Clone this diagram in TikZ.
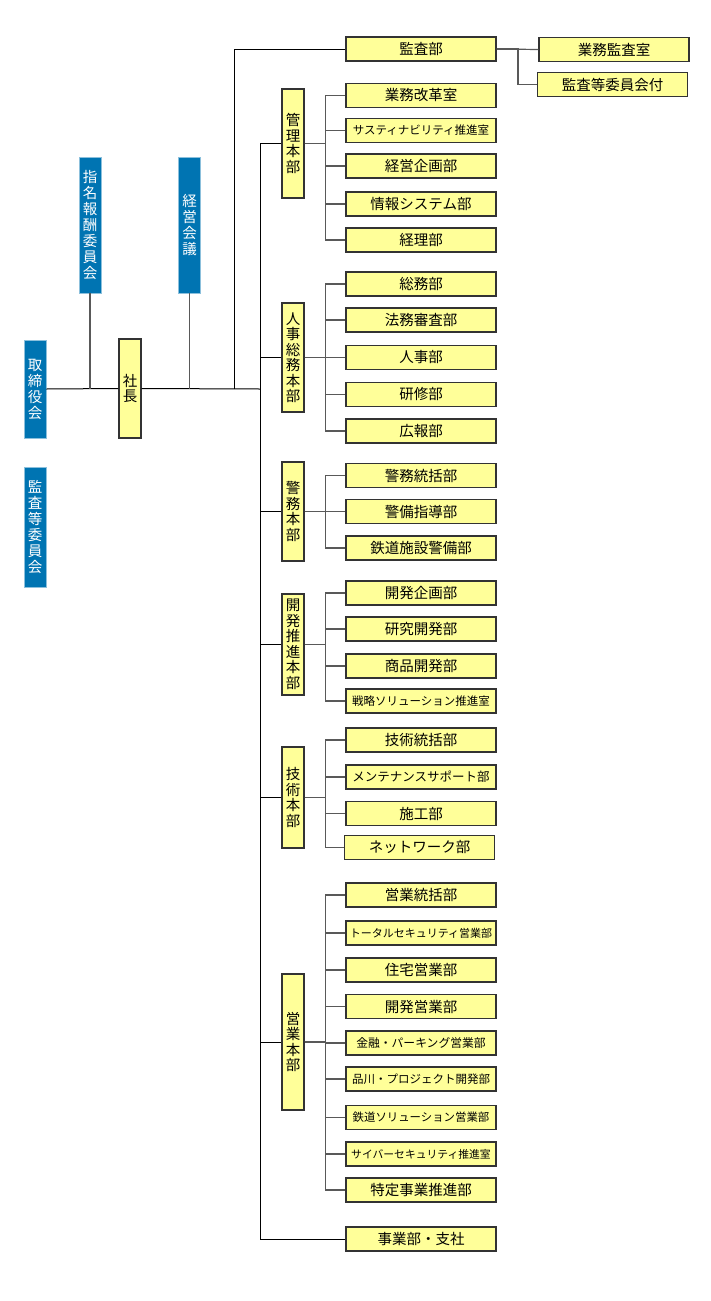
\documentclass[tikz,border=0pt]{standalone}
\usepackage{fontspec}
\usepackage{xcolor}
\newfontfamily\jp{Noto Sans CJK JP}
\definecolor{boxyellow}{RGB}{255,255,153}
\definecolor{kaigiblue}{RGB}{0,116,178}
\newcommand{\fs}[1]{\jp\fontsize{#1}{15.5}\selectfont}

\begin{document}
\begin{tikzpicture}[x=1pt,y=-1pt,
  bu/.style={draw=black!80, fill=boxyellow, line width=1.1pt, minimum width=150pt, minimum height=24pt, inner sep=0pt, font=\fs{14.5}},
  honbu/.style={draw=black!80, fill=boxyellow, line width=1.1pt, minimum width=22pt, inner sep=0pt, align=center, font=\fs{14.5}},
  kaigi/.style={fill=kaigiblue, draw=kaigiblue!45, line width=0.6pt, minimum width=22pt, inner sep=0pt, align=center, text=white, font=\jp\fontsize{14.5}{16}\selectfont},
  trunk/.style={black, line width=1pt},
  branch/.style={black!65, line width=1.2pt}]

\useasboundingbox (0,0) rectangle (711,1301);

% left side
\node[kaigi, minimum height=98pt] (torishimari) at (35,389) {取\\締\\役\\会};
\node[kaigi, minimum height=120pt] (kansaiinkai) at (35,527) {監\\査\\等\\委\\員\\会};
\node[kaigi, minimum height=136pt] (shimei) at (90,225) {指\\名\\報\\酬\\委\\員\\会};
\node[kaigi, minimum height=136pt] (keieikaigi) at (189.5,225) {経\\営\\会\\議};
\node[honbu, minimum height=99pt] (shacho) at (130,388.5) {社\\長};

\coordinate (tk) at (260,389);
\coordinate (ka) at (234,389);

\draw[trunk] (torishimari.east) -- (shacho.west);
\draw[trunk] (shacho.east) -- (tk);
\draw[branch] (shimei.south) -- (shimei.south |- torishimari.east);
\draw[branch] (keieikaigi.south) -- (keieikaigi.south |- torishimari.east);

% kansa
\node[bu] (kansa) at (421,49) {監査部};
\node[bu] (gyomukansa) at (614,49.5) {業務監査室};
\node[bu] (iinkaifu) at (612.5,84.5) {監査等委員会付};
\draw[trunk] (ka) |- (kansa.west);
\draw[branch] (kansa.east) -- (gyomukansa.west);
\draw[branch] (kansa.east) -- ++(21.5,0) |- (iinkaifu.west);

% honbu
\node[honbu, minimum height=109pt] (kanri) at (293,143.5) {管\\理\\本\\部};
\node[honbu, minimum height=109pt] (jinji) at (293,357.5) {人\\事\\総\\務\\本\\部};
\node[honbu, minimum height=99pt] (keimu) at (293,511.5) {警\\務\\本\\部};
\node[honbu, minimum height=101pt] (kaihatsu) at (293,644.5) {開\\発\\推\\進\\本\\部};
\node[honbu, minimum height=101pt] (gijutsu) at (293,797.5) {技\\術\\本\\部};
\node[honbu, minimum height=136pt] (eigyo) at (293,1042) {営\\業\\本\\部};
\node[bu] (jigyo) at (421,1239) {事業部・支社};

\draw[trunk] (kanri.west) -- (kanri.west -| tk) -- (jigyo.west -| tk) -- (jigyo.west);
\draw[trunk] (jinji.west) -- (jinji.west -| tk);
\draw[trunk] (keimu.west) -- (keimu.west -| tk);
\draw[trunk] (kaihatsu.west) -- (kaihatsu.west -| tk);
\draw[trunk] (gijutsu.west) -- (gijutsu.west -| tk);
\draw[trunk] (eigyo.west) -- (eigyo.west -| tk);

% kanri
\node[bu] (k1) at (421,95.5) {業務改革室};
\node[bu, font=\fs{11.5}] (k2) at (421,130.5) {サスティナビリティ推進室};
\node[bu] (k3) at (421,166) {経営企画部};
\node[bu] (k4) at (421,204) {情報システム部};
\node[bu] (k5) at (421,240) {経理部};
\foreach \c in {k1,k2,k3,k4,k5}
  \draw[branch] (kanri.east) -- ++(21,0) |- (\c.west);

% jinji
\node[bu] (j1) at (421,284) {総務部};
\node[bu] (j2) at (421,320) {法務審査部};
\node[bu] (j3) at (421,357.5) {人事部};
\node[bu] (j4) at (421,394.5) {研修部};
\node[bu] (j5) at (421,431) {広報部};
\foreach \c in {j1,j2,j3,j4,j5}
  \draw[branch] (jinji.east) -- ++(21,0) |- (\c.west);

% keimu
\node[bu] (m1) at (421,475.5) {警務統括部};
\node[bu] (m2) at (421,511.5) {警備指導部};
\node[bu] (m3) at (421,548) {鉄道施設警備部};
\foreach \c in {m1,m2,m3}
  \draw[branch] (keimu.east) -- ++(21,0) |- (\c.west);

% kaihatsu
\node[bu] (h1) at (421,593) {開発企画部};
\node[bu] (h2) at (421,629) {研究開発部};
\node[bu] (h3) at (421,666) {商品開発部};
\node[bu, font=\fs{11.5}] (h4) at (421,701) {戦略ソリューション推進室};
\foreach \c in {h1,h2,h3,h4}
  \draw[branch] (kaihatsu.east) -- ++(21,0) |- (\c.west);

% gijutsu
\node[bu] (g1) at (421,740) {技術統括部};
\node[bu, font=\fs{12.5}] (g2) at (421,777) {メンテナンスサポート部};
\node[bu] (g3) at (421,813.5) {施工部};
\node[bu] (g4) at (419.5,847.5) {ネットワーク部};
\foreach \c in {g1,g2,g3,g4}
  \draw[branch] (gijutsu.east) -- ++(21,0) |- (\c.west);

% eigyo
\node[bu] (e1) at (421,895) {営業統括部};
\node[bu, font=\fs{11}] (e2) at (421,933) {トータルセキュリティ営業部};
\node[bu] (e3) at (421,970) {住宅営業部};
\node[bu] (e4) at (421,1006.5) {開発営業部};
\node[bu, font=\fs{11.8}] (e5) at (421,1043) {金融・パーキング営業部};
\node[bu, font=\fs{11.5}] (e6) at (421,1079) {品川・プロジェクト開発部};
\node[bu, font=\fs{11.4}] (e7) at (421,1117.5) {鉄道ソリューション営業部};
\node[bu, font=\fs{10.8}] (e8) at (421,1154) {サイバーセキュリティ推進室};
\node[bu] (e9) at (421,1190) {特定事業推進部};
\foreach \c in {e1,e2,e3,e4,e5,e6,e7,e8,e9}
  \draw[branch] (eigyo.east) -- ++(21,0) |- (\c.west);

\end{tikzpicture}
\end{document}
